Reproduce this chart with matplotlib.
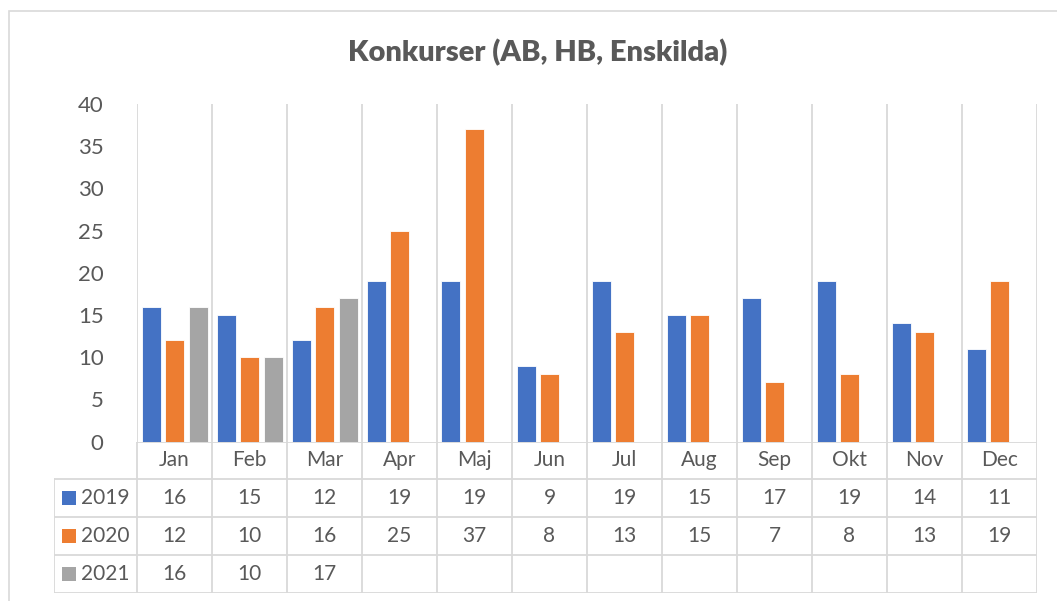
import matplotlib
matplotlib.use("Agg")
import matplotlib.pyplot as plt
from matplotlib.patches import Rectangle

plt.rcParams['font.family'] = ['Lato', 'DejaVu Sans']

# data
months = ["Jan", "Feb", "Mar", "Apr", "Maj", "Jun", "Jul", "Aug", "Sep", "Okt", "Nov", "Dec"]
years = ["2019", "2020", "2021"]
v2019 = [16, 15, 12, 19, 19, 9, 19, 15, 17, 19, 14, 11]
v2020 = [12, 10, 16, 25, 37, 8, 13, 15, 7, 8, 13, 19]
v2021 = [16, 10, 17]
yticks = [0, 5, 10, 15, 20, 25, 30, 35, 40]

colors = ["#4472C4", "#ED7D31", "#A5A5A5"]
txt = "#595959"
grid = "#D9D9D9"

W, H = 1057, 601
fig = plt.figure(figsize=(W / 100, H / 100), dpi=100)

# outer chart border
fig.patches.append(Rectangle((8.5 / W, -0.1), 2, 1.1 - 11 / H, transform=fig.transFigure,
                             fill=False, edgecolor=grid, linewidth=1.2))

fig.text(538 / W, 1 - 53 / H, "Konkurser (AB, HB, Enskilda)", ha="center", va="center",
         fontsize=21, fontweight="heavy", color=txt)

# main plot
x0, x1, y0, y1 = 137, 1037, 441.5, 104
ax = fig.add_axes([x0 / W, 1 - y0 / H, (x1 - x0) / W, (y0 - y1) / H])
for s in ax.spines.values():
    s.set_visible(False)

bw = 19 / 75
step = 23.5 / 75
series = [v2019, v2020, v2021]
for k, vals in enumerate(series):
    xs = [i + 0.5 + (k - 1) * step for i in range(len(vals))]
    ax.bar(xs, vals, width=bw, color=colors[k], edgecolor="white", linewidth=0.6, zorder=3)

for i in range(13):
    ax.axvline(i, color=grid, linewidth=1.3, zorder=1)

ax.set_xlim(0, 12)
ax.set_ylim(0, 40)
ax.set_xticks([])
ax.set_yticks(yticks)
ax.tick_params(axis="y", length=0, pad=24, labelsize=16, labelcolor=txt)

# data table below
t0 = 54
tab = fig.add_axes([t0 / W, 1 - 593 / H, (x1 - t0) / W, (593 - y0) / H])
lw_col = (x0 - t0) / 75
tab.axis("off")

for i in range(13):
    tab.plot([i, i], [0, 4], color=grid, linewidth=1.3)
tab.plot([-lw_col, -lw_col], [1, 4], color=grid, linewidth=1.3)
tab.plot([0, 12], [0, 0], color=grid, linewidth=1.3)
for r in range(1, 5):
    tab.plot([-lw_col, 12], [r, r], color=grid, linewidth=1.3)

for i, m in enumerate(months):
    tab.text(i + 0.5, 0.5, m, ha="center", va="center", fontsize=15, color=txt)

for r, (yr, vals) in enumerate(zip(years, series), start=1):
    yc = r + 0.5
    tab.add_patch(Rectangle((-lw_col + 8 / 75, yc - 0.18), 14 / 75, 0.36,
                            facecolor=colors[r - 1], edgecolor="none"))
    tab.text(-lw_col + 27 / 75, yc, yr, ha="left", va="center", fontsize=15, color=txt)
    for i, v in enumerate(vals):
        tab.text(i + 0.5, yc, str(v), ha="center", va="center", fontsize=15, color=txt)

tab.set_xlim(-lw_col, 12)
tab.set_ylim(4, 0)

fig.savefig("out.png", dpi=100)
